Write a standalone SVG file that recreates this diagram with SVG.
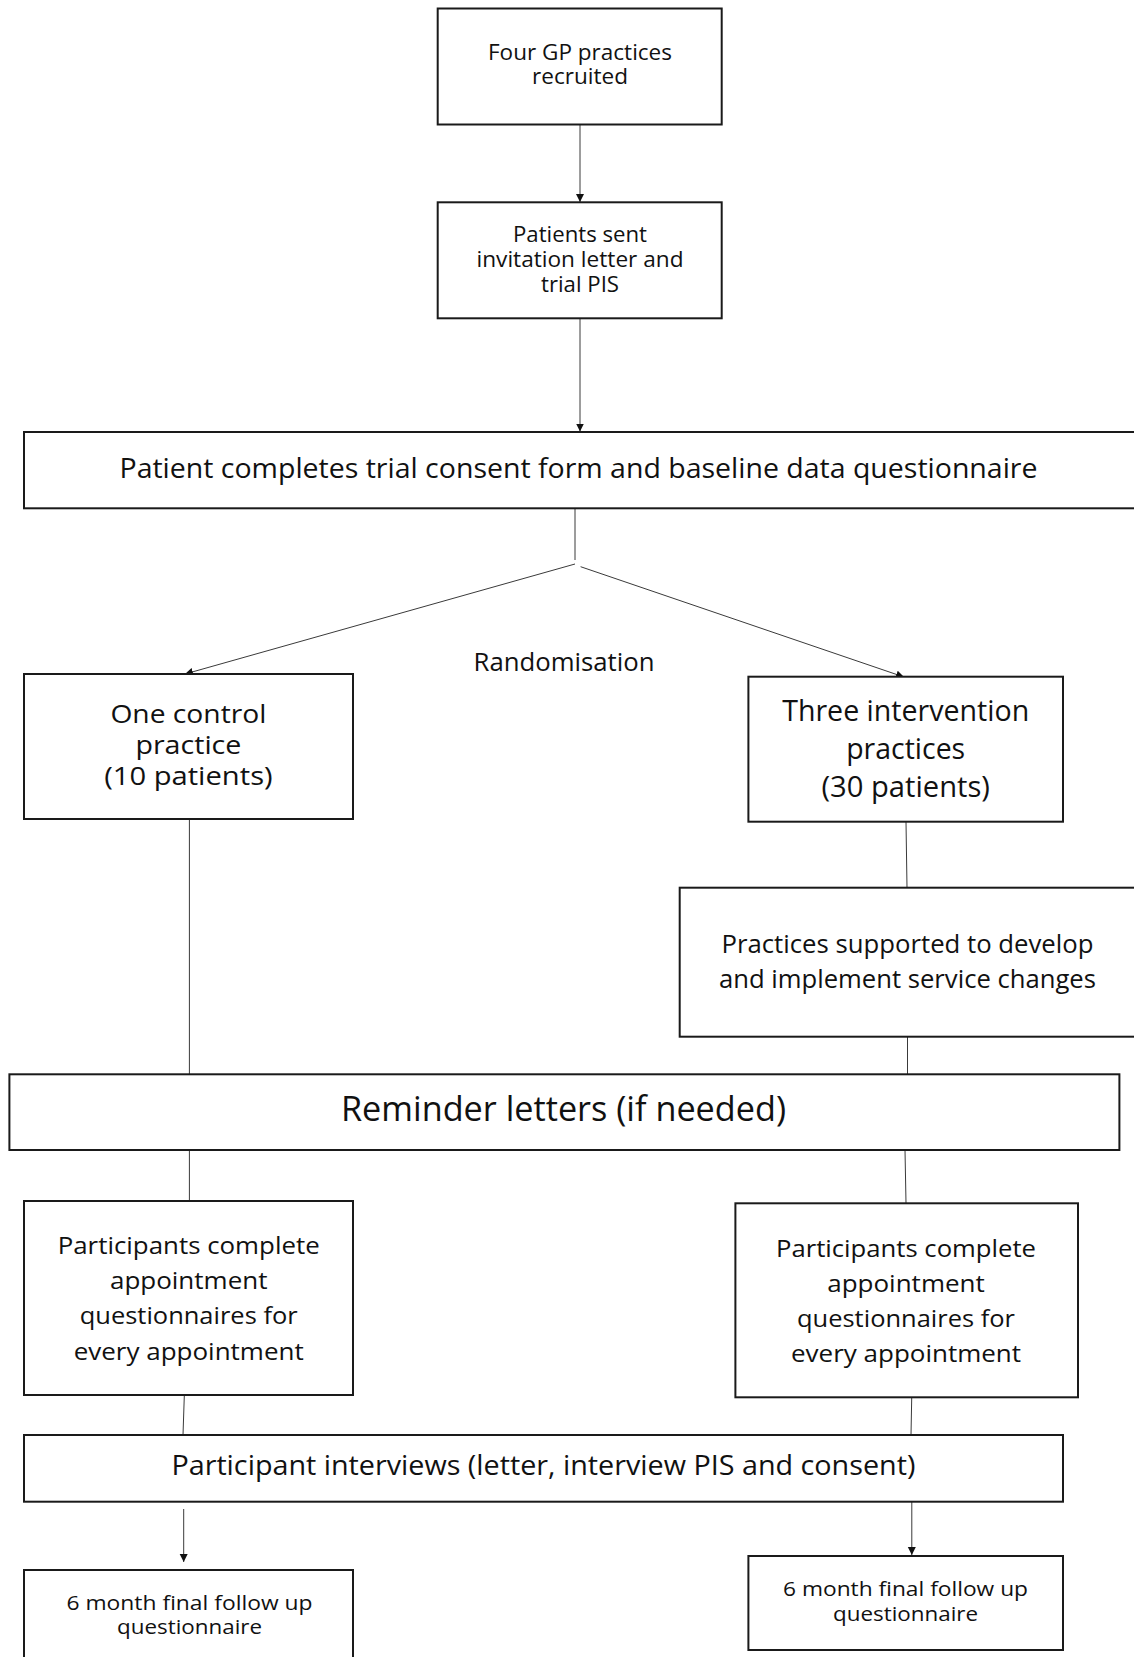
<svg xmlns="http://www.w3.org/2000/svg" width="1134" height="1657" viewBox="0 0 1134 1657">
  <style>
    .box { fill: #ffffff; stroke: #1a1a1a; stroke-width: 2; }
    .t { font-family: "Open Sans", "Liberation Sans", sans-serif; fill: #111111; text-anchor: middle; }
    .link { fill: none; stroke: #3a3a3a; stroke-width: 1; }
  </style>
  <defs>
    <marker id="arrow" viewBox="0 0 10 10" refX="10" refY="5" markerWidth="8" markerHeight="9" markerUnits="userSpaceOnUse" orient="auto">
      <path d="M0,0 L10,5 L0,10 z" fill="#111111"/>
    </marker>
  </defs>

  <rect width="1134" height="1657" fill="#ffffff"/>

  <g id="connectors">
    <line class="link" x1="580" y1="124.5" x2="580" y2="202" marker-end="url(#arrow)"/>
    <line class="link" x1="580" y1="318.5" x2="580" y2="431.5" marker-end="url(#arrow)"/>
    <line class="link" x1="575" y1="508.5" x2="575" y2="560"/>
    <line class="link" x1="575" y1="564" x2="185" y2="674" marker-end="url(#arrow)"/>
    <line class="link" x1="580.6" y1="566.7" x2="904" y2="677" marker-end="url(#arrow)"/>
    <line class="link" x1="189.4" y1="819" x2="189.4" y2="1074"/>
    <line class="link" x1="906" y1="822" x2="907" y2="887.7"/>
    <line class="link" x1="907.5" y1="1036.7" x2="907.5" y2="1074.3"/>
    <line class="link" x1="189.4" y1="1150" x2="189.4" y2="1201"/>
    <line class="link" x1="905" y1="1150" x2="906" y2="1203"/>
    <line class="link" x1="184.4" y1="1393" x2="183" y2="1435"/>
    <line class="link" x1="911.8" y1="1393" x2="911" y2="1435"/>
    <line class="link" x1="183.7" y1="1509" x2="183.7" y2="1562" marker-end="url(#arrow)"/>
    <line class="link" x1="911.8" y1="1502" x2="911.8" y2="1555" marker-end="url(#arrow)"/>
  </g>

  <g id="practices-recruited">
    <rect class="box" x="437.7" y="8.5" width="284" height="116"/>
    <text class="t" x="580" y="60" font-size="21" textLength="184" lengthAdjust="spacingAndGlyphs">Four GP practices</text>
    <text class="t" x="580" y="84" font-size="21" textLength="96" lengthAdjust="spacingAndGlyphs">recruited</text>
  </g>

  <g id="invitation-sent">
    <rect class="box" x="437.7" y="202.3" width="284" height="116"/>
    <text class="t" x="580" y="242" font-size="21" textLength="134" lengthAdjust="spacingAndGlyphs">Patients sent</text>
    <text class="t" x="580" y="267" font-size="21" textLength="207" lengthAdjust="spacingAndGlyphs">invitation letter and</text>
    <text class="t" x="580" y="292" font-size="21" textLength="78" lengthAdjust="spacingAndGlyphs">trial PIS</text>
  </g>

  <g id="consent-baseline">
    <rect class="box" x="24" y="432" width="1120" height="76.3"/>
    <text class="t" x="578.5" y="478" font-size="28" textLength="918" lengthAdjust="spacingAndGlyphs">Patient completes trial consent form and baseline data questionnaire</text>
  </g>

  <g id="randomisation-label">
    <text class="t" x="564" y="671" font-size="25" textLength="181" lengthAdjust="spacingAndGlyphs">Randomisation</text>
  </g>

  <g id="control-practice">
    <rect class="box" x="24" y="674" width="329" height="145"/>
    <text class="t" x="188.4" y="722.5" font-size="26" textLength="156" lengthAdjust="spacingAndGlyphs">One control</text>
    <text class="t" x="188.4" y="753.5" font-size="26" textLength="106" lengthAdjust="spacingAndGlyphs">practice</text>
    <text class="t" x="188.4" y="785" font-size="26" textLength="168.5" lengthAdjust="spacingAndGlyphs">(10 patients)</text>
  </g>

  <g id="intervention-practices">
    <rect class="box" x="748.4" y="676.7" width="314.6" height="145"/>
    <text class="t" x="905.7" y="720.7" font-size="29" textLength="247" lengthAdjust="spacingAndGlyphs">Three intervention</text>
    <text class="t" x="905.7" y="759" font-size="29" textLength="119" lengthAdjust="spacingAndGlyphs">practices</text>
    <text class="t" x="905.7" y="796.7" font-size="29" textLength="168.5" lengthAdjust="spacingAndGlyphs">(30 patients)</text>
  </g>

  <g id="service-changes">
    <rect class="box" x="679.7" y="887.7" width="464" height="149"/>
    <text class="t" x="907.5" y="953" font-size="26" textLength="372" lengthAdjust="spacingAndGlyphs">Practices supported to develop</text>
    <text class="t" x="907.5" y="988" font-size="26" textLength="377" lengthAdjust="spacingAndGlyphs">and implement service changes</text>
  </g>

  <g id="reminder-letters">
    <rect class="box" x="9.4" y="1074.3" width="1110" height="75.7"/>
    <text class="t" x="563.5" y="1121" font-size="34" textLength="445" lengthAdjust="spacingAndGlyphs">Reminder letters (if needed)</text>
  </g>

  <g id="control-appointments">
    <rect class="box" x="24" y="1201" width="329" height="194"/>
    <text class="t" x="188.7" y="1254" font-size="24" textLength="262" lengthAdjust="spacingAndGlyphs">Participants complete</text>
    <text class="t" x="188.7" y="1289" font-size="24" textLength="157.5" lengthAdjust="spacingAndGlyphs">appointment</text>
    <text class="t" x="188.7" y="1324" font-size="24" textLength="218" lengthAdjust="spacingAndGlyphs">questionnaires for</text>
    <text class="t" x="188.7" y="1359.5" font-size="24" textLength="230" lengthAdjust="spacingAndGlyphs">every appointment</text>
  </g>

  <g id="intervention-appointments">
    <rect class="box" x="735.4" y="1203.3" width="342.6" height="194"/>
    <text class="t" x="906" y="1256.7" font-size="24" textLength="260" lengthAdjust="spacingAndGlyphs">Participants complete</text>
    <text class="t" x="906" y="1291.7" font-size="24" textLength="157.5" lengthAdjust="spacingAndGlyphs">appointment</text>
    <text class="t" x="906" y="1326.7" font-size="24" textLength="218" lengthAdjust="spacingAndGlyphs">questionnaires for</text>
    <text class="t" x="906" y="1362.3" font-size="24" textLength="230" lengthAdjust="spacingAndGlyphs">every appointment</text>
  </g>

  <g id="participant-interviews">
    <rect class="box" x="24" y="1435" width="1039" height="66.7"/>
    <text class="t" x="543.4" y="1475" font-size="28" textLength="744" lengthAdjust="spacingAndGlyphs">Participant interviews (letter, interview PIS and consent)</text>
  </g>

  <g id="control-follow-up">
    <rect class="box" x="24" y="1570" width="329" height="100"/>
    <text class="t" x="189.5" y="1610" font-size="20" textLength="246" lengthAdjust="spacingAndGlyphs">6 month final follow up</text>
    <text class="t" x="189.5" y="1634" font-size="20" textLength="145" lengthAdjust="spacingAndGlyphs">questionnaire</text>
  </g>

  <g id="intervention-follow-up">
    <rect class="box" x="748.4" y="1556" width="314.6" height="94"/>
    <text class="t" x="905.5" y="1596" font-size="20" textLength="245" lengthAdjust="spacingAndGlyphs">6 month final follow up</text>
    <text class="t" x="905.5" y="1620.7" font-size="20" textLength="145" lengthAdjust="spacingAndGlyphs">questionnaire</text>
  </g>
</svg>
